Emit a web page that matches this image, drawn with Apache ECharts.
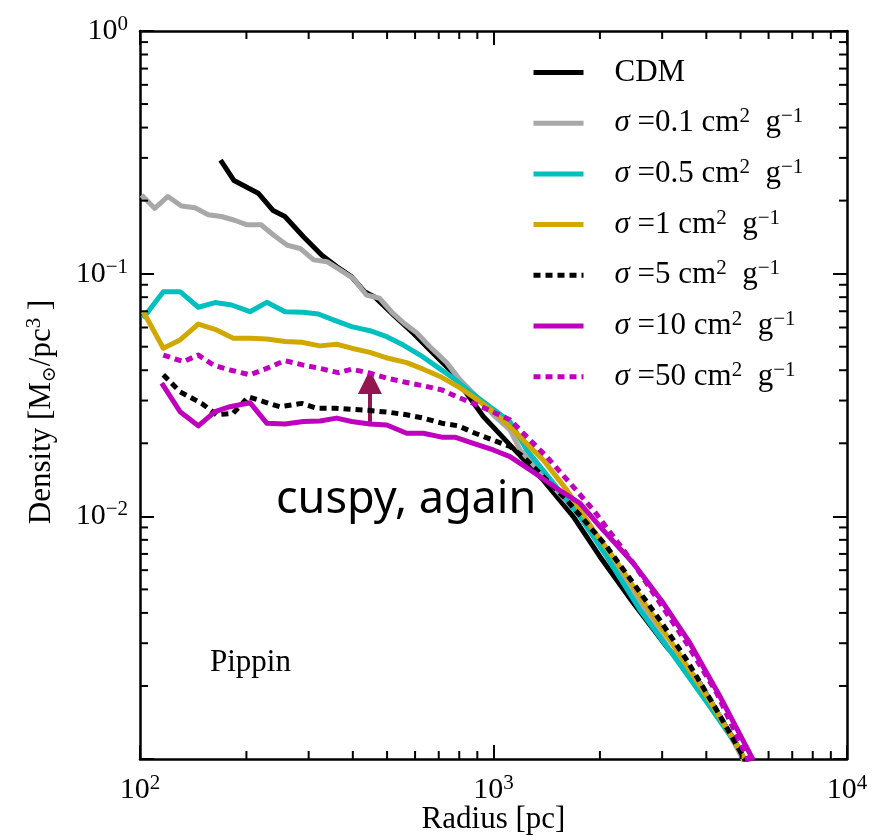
<!DOCTYPE html>
<html><head><meta charset="utf-8">
<script src="https://cdn.jsdelivr.net/npm/echarts@6/dist/echarts.min.js"></script>
<style>html,body{margin:0;padding:0;background:#fff}#c{width:877px;height:836px}</style>
</head><body><div id="c"></div>
<script>
// ---- data (radius in pc, density in Msun/pc^3) ----
const rCDM = [169, 184.5, 216, 238, 257, 290, 327, 360, 397, 433, 462, 521, 593, 661, 753, 840, 936, 1113, 1383, 1682, 2001, 2486, 3090, 3839, 4981, 5150];
const rhoCDM = [0.294, 0.242, 0.2145, 0.182, 0.172, 0.142, 0.119, 0.107, 0.097, 0.084, 0.080, 0.0676, 0.0568, 0.0485, 0.0401, 0.0321, 0.0258, 0.0197, 0.0141, 0.00997, 0.00682, 0.00439, 0.00290, 0.00205, 0.00109, 0.00096];

const r01 = [101, 110, 120, 131, 143, 156, 170, 185, 201, 220, 239, 261, 284, 310, 338, 368, 401, 437, 476, 519, 556, 606, 661, 737, 804, 897, 999, 1113, 1189, 1445, 1757, 2045, 2381, 2741, 3158, 3756, 4373, 5150];
const rho01 = [0.211, 0.186, 0.208, 0.190, 0.187, 0.175, 0.172, 0.166, 0.159, 0.159, 0.144, 0.131, 0.127, 0.114, 0.112, 0.1036, 0.0957, 0.0817, 0.0792, 0.0687, 0.0628, 0.0571, 0.0500, 0.0430, 0.0365, 0.0311, 0.0262, 0.0227, 0.0188, 0.0137, 0.00997, 0.00727, 0.0053, 0.00386, 0.00281, 0.00215, 0.0015, 0.00096];

const r05 = [102, 116.4, 129.8, 146.2, 163, 181.7, 204.7, 228.3, 257.2, 289.7, 319.5, 352.3, 397, 447, 499, 556, 620, 691, 770, 858, 977, 1113, 1241, 1476, 1757, 2091, 2597, 3298, 4097, 4981, 5200];
const rho05 = [0.0655, 0.0843, 0.0843, 0.0727, 0.0760, 0.0743, 0.0697, 0.0762, 0.0697, 0.0693, 0.0682, 0.0645, 0.0605, 0.0582, 0.0550, 0.0508, 0.0462, 0.0414, 0.0371, 0.0326, 0.0283, 0.0246, 0.0188, 0.0137, 0.00997, 0.00682, 0.00411, 0.00256, 0.00164, 0.00109, 0.00095];

const r1 = [102.2, 116.4, 129.8, 146.2, 163, 183.6, 204.7, 228.3, 257.2, 286.7, 323, 360, 397, 447, 504, 568, 633, 714, 795, 887, 999, 1113, 1383, 1611, 1916, 2280, 2713, 3298, 4010, 4981, 5200];
const rho1 = [0.0697, 0.0493, 0.0533, 0.0620, 0.0590, 0.0542, 0.0542, 0.0538, 0.0525, 0.0522, 0.0504, 0.0512, 0.0493, 0.0474, 0.0448, 0.0430, 0.0404, 0.0374, 0.0342, 0.0307, 0.0270, 0.0234, 0.01708, 0.01285, 0.00879, 0.0062, 0.00425, 0.00281, 0.00181, 0.00109, 0.00095];

const r5 = [116.4, 129.8, 149.5, 164.8, 183.6, 202.5, 223.3, 248.9, 286.7, 316.2, 356.1, 397, 447, 509.6, 568, 633, 714, 795, 887, 999, 1113, 1214, 1414, 1611, 1835, 2091, 2486, 2958, 3520, 4280, 5090, 5250];
const rho5 = [0.0383, 0.0326, 0.0292, 0.0262, 0.0266, 0.0311, 0.0297, 0.0283, 0.0292, 0.0279, 0.0279, 0.0276, 0.0273, 0.0268, 0.0262, 0.0254, 0.0242, 0.0236, 0.0220, 0.0206, 0.0194, 0.0176, 0.0141, 0.01168, 0.00937, 0.0075, 0.0053, 0.00373, 0.00256, 0.00159, 0.00102, 0.00094];

const r10 = [115.2, 129.8, 146.2, 163, 179.7, 204.7, 228.3, 257.2, 289.7, 323, 360, 397, 447, 499, 568, 633, 714, 778, 877, 999, 1113, 1269, 1510, 1757, 2001, 2486, 3022, 3597, 4373, 5433];
const rho10 = [0.0354, 0.0270, 0.0236, 0.0270, 0.0283, 0.0294, 0.0242, 0.0240, 0.0246, 0.0247, 0.0254, 0.0246, 0.0240, 0.0238, 0.0220, 0.0220, 0.0212, 0.0212, 0.0200, 0.01877, 0.01762, 0.01553, 0.01305, 0.01132, 0.00907, 0.00641, 0.00439, 0.0030, 0.00181, 0.00099];

const r50 = [116.4, 132.6, 146.2, 161.3, 179.7, 204.7, 228.3, 257.2, 289.7, 323, 364, 397, 447, 499, 568, 633, 714, 787, 877, 977, 1113, 1214, 1414, 1646, 1916, 2183, 2486, 2958, 3520, 4280, 5203, 5320];
const rho50 = [0.0462, 0.0434, 0.0462, 0.0420, 0.0401, 0.0383, 0.0407, 0.0438, 0.0420, 0.0407, 0.0391, 0.0404, 0.0389, 0.0371, 0.0356, 0.0345, 0.0332, 0.0311, 0.0292, 0.0273, 0.0250, 0.0220, 0.0176, 0.0137, 0.01063, 0.00825, 0.00641, 0.00439, 0.0030, 0.00187, 0.00102, 0.00094];

const seriesNames = ['CDM', 'σ=0.1', 'σ=0.5', 'σ=1', 'σ=5', 'σ=10', 'σ=50'];
const sigmaLabels = ['', '0.1', '0.5', '1', '5', '10', '50'];
// arrow annotation (radius, density from, density to)
const arrowR = 447, arrowFrom = 0.0245, arrowTo = 0.0358;
// axis ticks
const xMinorTicks = [200, 300, 400, 500, 600, 700, 800, 900, 2000, 3000, 4000, 5000, 6000, 7000, 8000, 9000];
const yMinorTicks = [0.002, 0.003, 0.004, 0.005, 0.006, 0.007, 0.008, 0.009, 0.02, 0.03, 0.04, 0.05, 0.06, 0.07, 0.08, 0.09, 0.2, 0.3, 0.4, 0.5, 0.6, 0.7, 0.8, 0.9];

const F = '"Liberation Serif", "DejaVu Serif", serif';
const zip = (a, b) => a.map((v, i) => [v, b[i]]);

const colors = ['#000000', '#a8a8a8', '#00bfbf', '#d1a800', '#000000', '#bf00bf', '#bf00bf'];
const dashes = ['solid', 'solid', 'solid', 'solid', [7, 5], 'solid', [7, 5]];
const dataSets = [zip(rCDM, rhoCDM), zip(r01, rho01), zip(r05, rho05), zip(r1, rho1), zip(r5, rho5), zip(r10, rho10), zip(r50, rho50)];

const supTxt = e => (e < 0 ? '−' + (-e) : '' + e);
const tickRich = {
  b: { fontFamily: F, fontSize: 30, lineHeight: 34, color: '#000' },
  s: { fontFamily: F, fontSize: 21, lineHeight: 14, verticalAlign: 'top', color: '#000' }
};

const lineSeries = dataSets.map((d, i) => {
  const s = {
    name: seriesNames[i], type: 'line', data: d, xAxisIndex: 0, yAxisIndex: 0,
    showSymbol: false, symbol: 'none', clip: true, z: 2 + i,
    lineStyle: { color: colors[i], width: 5, type: dashes[i], cap: 'butt', join: 'round' },
    itemStyle: { color: colors[i] }
  };
  if (i === 5) {
    s.markLine = {
      silent: true, symbol: ['none', 'triangle'], symbolSize: 24,
      label: { show: false },
      lineStyle: { color: '#931650', width: 4, type: 'solid' },
      data: [[{ coord: [arrowR, arrowFrom] }, { coord: [arrowR, arrowTo] }]]
    };
  }
  return s;
});

const minorX = {
  type: 'custom', coordinateSystem: 'cartesian2d', xAxisIndex: 0, yAxisIndex: 0, silent: true, clip: false, z: 20,
  data: xMinorTicks.map(v => [v, 0.01]),
  renderItem: (params, api) => {
    const cs = params.coordSys;
    const x = api.coord([api.value(0), 0.01])[0];
    const b = cs.y + cs.height, t = cs.y;
    return { type: 'group', children: [
      { type: 'line', shape: { x1: x, y1: b, x2: x, y2: b - 8 }, style: { stroke: '#000', lineWidth: 2 } },
      { type: 'line', shape: { x1: x, y1: t, x2: x, y2: t + 8 }, style: { stroke: '#000', lineWidth: 2 } }
    ] };
  }
};
const minorY = {
  type: 'custom', coordinateSystem: 'cartesian2d', xAxisIndex: 0, yAxisIndex: 0, silent: true, clip: false, z: 20,
  data: yMinorTicks.map(v => [1000, v]),
  renderItem: (params, api) => {
    const cs = params.coordSys;
    const y = api.coord([1000, api.value(1)])[1];
    const l = cs.x, r = cs.x + cs.width;
    return { type: 'group', children: [
      { type: 'line', shape: { x1: l, y1: y, x2: l + 8, y2: y }, style: { stroke: '#000', lineWidth: 2 } },
      { type: 'line', shape: { x1: r, y1: y, x2: r - 8, y2: y }, style: { stroke: '#000', lineWidth: 2 } }
    ] };
  }
};

const axisCommon = {
  type: 'log', logBase: 10, splitLine: { show: false },
  axisLine: { show: true, lineStyle: { color: '#000', width: 2.5 } },
  axisTick: { show: true, inside: true, length: 14, lineStyle: { color: '#000', width: 2 } }
};

const chart = echarts.init(document.getElementById('c'), null, { renderer: 'canvas' });
chart.setOption({
  animation: false,
  backgroundColor: '#fff',
  grid: { left: 140, right: 30, top: 31, bottom: 77, containLabel: false, outerBoundsMode: 'none' },
  xAxis: [
    Object.assign({}, axisCommon, {
      min: 100, max: 10000, position: 'bottom',
      axisLabel: { margin: 14, formatter: v => '{b|10}{s|' + supTxt(Math.round(Math.log10(v))) + '}', rich: tickRich },
      name: 'Radius [pc]', nameLocation: 'middle', nameGap: 45, nameMoveOverlap: false,
      nameTextStyle: { fontFamily: F, fontSize: 31, color: '#000' }
    }),
    Object.assign({}, axisCommon, { min: 100, max: 10000, position: 'top', axisLabel: { show: false } })
  ],
  yAxis: [
    Object.assign({}, axisCommon, {
      min: 0.001, max: 1, position: 'left',
      axisLabel: { margin: 12, formatter: v => { const e = Math.round(Math.log10(v)); return e === -3 ? '' : '{b|10}{s|' + supTxt(e) + '}'; }, rich: tickRich },
      name: '{t|Density [M}{d|⊙}{t|/pc}{u|3}{t| ]}', nameLocation: 'middle', nameGap: 80, nameRotate: 90, nameMoveOverlap: false,
      nameTextStyle: { padding: [0, 34, 0, 0], rich: {
        t: { fontFamily: F, fontSize: 31, lineHeight: 36, color: '#000' },
        d: { fontFamily: F, fontSize: 19, lineHeight: 14, verticalAlign: 'bottom', color: '#000' },
        u: { fontFamily: F, fontSize: 21, lineHeight: 14, verticalAlign: 'top', color: '#000' }
      } }
    }),
    Object.assign({}, axisCommon, { min: 0.001, max: 1, position: 'right', axisLabel: { show: false } })
  ],
  legend: {
    orient: 'vertical', left: 526, top: 52, itemWidth: 50, itemHeight: 2, itemGap: 18.2,
    data: seriesNames,
    itemStyle: { opacity: 0 },
    lineStyle: { width: 5 },
    formatter: name => {
      const i = seriesNames.indexOf(name);
      if (i === 0) return '{t|CDM}';
      return '{i|σ}{t| =' + sigmaLabels[i] + ' cm}{s|2}{t|  g}{s|−1}';
    },
    textStyle: { padding: [0, 0, 0, 26], rich: {
      t: { fontFamily: F, fontSize: 31, lineHeight: 34, color: '#000' },
      i: { fontFamily: F, fontSize: 31, lineHeight: 34, fontStyle: 'italic', color: '#000' },
      s: { fontFamily: F, fontSize: 21, lineHeight: 14, verticalAlign: 'top', color: '#000' }
    } }
  },
  graphic: [
    { type: 'text', left: 276, top: 478, z: 50, style: { text: 'cuspy, again', fontFamily: '"Noto Sans", "Liberation Sans", sans-serif', fontSize: 45, fill: '#000' } },
    { type: 'text', left: 210, top: 647, z: 50, style: { text: 'Pippin', fontFamily: F, fontSize: 31, fill: '#000' } }
  ],
  series: lineSeries.concat([minorX, minorY])
});
</script></body></html>
